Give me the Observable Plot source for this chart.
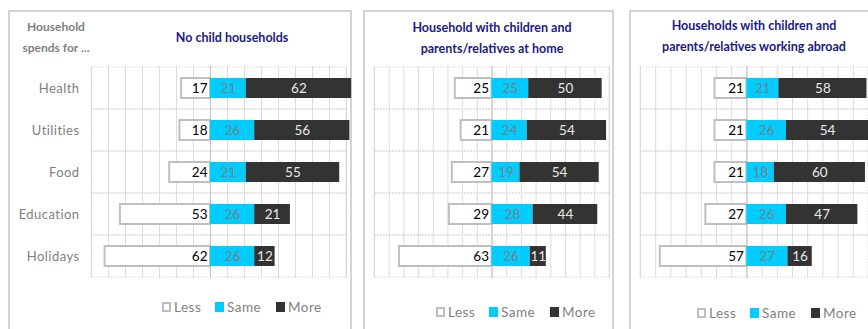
<!DOCTYPE html>
<html>
<head>
<meta charset="utf-8">
<script src="https://cdn.jsdelivr.net/npm/d3@7"></script>
<script src="https://cdn.jsdelivr.net/npm/@observablehq/plot@0.6"></script>
<style>
  html, body { margin: 0; padding: 0; background: #fff; }
  #wrap { position: relative; width: 868px; height: 329px; overflow: hidden; background: #fff;
          font-family: Lato, "Liberation Sans", sans-serif; }
  .frame { position: absolute; border: 2px solid #d4d4d4; border-bottom: none; }
  .plot { position: absolute; top: 0; }
  .plot svg { overflow: visible; }
  .title { position: absolute; color: #1a1a85; font-weight: bold; font-size: 12.5px; text-align: center; line-height: 21px; white-space: nowrap; transform: translateX(-50%); }
  .header { position: absolute; color: #7f7f7f; font-weight: bold; font-size: 12px; text-align: center; line-height: 21px; white-space: nowrap; transform: translateX(-50%); }
  .legend { position: absolute; display: flex; align-items: center; color: #7f7f7f; font-size: 13.5px; letter-spacing: 0.5px; white-space: nowrap; }
  .sw { display: inline-block; width: 9px; height: 10px; margin-right: 3px; box-sizing: border-box; }
  g[aria-label^="y-axis"] { color: #7f7f7f; fill: #7f7f7f; }
  g[aria-label^="y-axis"] text { font-size: 13px; letter-spacing: 0.45px; fill: #7f7f7f; }
</style>
</head>
<body>
<div id="wrap"></div>
<script>
const categories = ["Health", "Utilities", "Food", "Education", "Holidays"];
const seriesNames = ["Less", "Same", "More"];
const seriesColors = ["#ffffff", "#00ccff", "#333333"];
const panelTitles = [
  ["No child households"],
  ["Household with children and", "parents/relatives at home"],
  ["Households with children and", "parents/relatives working abroad"]
];
const headerLines = ["Household", "spends for ..."];

const noChildLess = [17, 18, 24, 53, 62];
const noChildSame = [21, 26, 21, 26, 26];
const noChildMore = [62, 56, 55, 21, 12];

const homeLess = [25, 21, 27, 29, 63];
const homeSame = [25, 24, 19, 28, 26];
const homeMore = [50, 54, 54, 44, 11];

const abroadLess = [21, 21, 21, 27, 57];
const abroadSame = [21, 26, 18, 26, 27];
const abroadMore = [58, 54, 60, 47, 16];

const wrap = document.getElementById("wrap");

function addDiv(cls, style, html) {
  const d = document.createElement("div");
  d.className = cls;
  Object.assign(d.style, style);
  if (html != null) d.innerHTML = html;
  wrap.appendChild(d);
  return d;
}

function makePanel(less, same, more, domain, opts) {
  const rows = categories.map((c, i) => ({cat: c, less: less[i], same: same[i], more: more[i]}));
  const fontFamily = 'Lato, "Liberation Sans", sans-serif';
  const plot = Plot.plot({
    width: opts.width,
    height: 290,
    marginTop: 66,
    marginBottom: 12,
    marginLeft: opts.marginLeft,
    marginRight: opts.marginRight,
    style: {background: "transparent", fontFamily, overflow: "visible"},
    x: {domain, axis: null},
    y: opts.showY
      ? {domain: categories, padding: 0, tickSize: 0, tickPadding: 12, label: null, axis: "left"}
      : {domain: categories, padding: 0, axis: null},
    marks: [
      Plot.gridX(d3.range(domain[0], domain[1] + 1, 10), {stroke: "#dcdcdc", strokeOpacity: 1}),
      Plot.barX(categories, {y: d => d, x1: domain[0], x2: domain[1], fill: "none", stroke: "#d4d4d4", strokeDasharray: "1.5,1.5"}),
      Plot.ruleX([0], {stroke: "#c0c0c0"}),
      Plot.barX(rows, {y: "cat", x1: d => -d.less, x2: 0, fill: seriesColors[0], stroke: "#bfbfbf", strokeWidth: 2, insetTop: 11, insetBottom: 11}),
      Plot.barX(rows, {y: "cat", x1: 0, x2: d => d.same, fill: seriesColors[1], insetTop: 11, insetBottom: 11}),
      Plot.barX(rows, {y: "cat", x1: d => d.same, x2: d => d.same + d.more, fill: seriesColors[2], insetTop: 11, insetBottom: 11}),
      Plot.text(rows, {y: "cat", x: 0, text: d => String(d.less), dx: -3, textAnchor: "end", fill: "#000000", fontSize: 13.5}),
      Plot.text(rows, {y: "cat", x: d => d.same / 2, text: d => String(d.same), fill: "#7f7f7f", fontSize: 13.5}),
      Plot.text(rows, {y: "cat", x: d => d.same + d.more / 2, text: d => String(d.more), fill: "#e8e8e8", fontSize: 13.5})
    ]
  });
  const holder = addDiv("plot", {left: opts.left + "px"});
  holder.appendChild(plot);
}

// frames
addDiv("frame", {left: "8px", top: "10px", width: "340px", height: "330px"});
addDiv("frame", {left: "363px", top: "10px", width: "247px", height: "330px"});
addDiv("frame", {left: "629px", top: "10px", width: "260px", height: "330px"});

makePanel(noChildLess, noChildSame, noChildMore, [-70, 80], {left: 0, width: 350, marginLeft: 91, marginRight: 4, showY: true});
makePanel(homeLess, homeSame, homeMore, [-80, 80], {left: 364, width: 250, marginLeft: 10, marginRight: 5, showY: false});
makePanel(abroadLess, abroadSame, abroadMore, [-70, 80], {left: 630, width: 238, marginLeft: 10, marginRight: 0, showY: false});

// header & titles
addDiv("header", {left: "56px", top: "16px"}, headerLines.join("<br>"));
addDiv("title", {left: "232px", top: "27px"}, panelTitles[0].join("<br>"));
addDiv("title", {left: "492px", top: "17px"}, panelTitles[1].join("<br>"));
addDiv("title", {left: "754px", top: "15px"}, panelTitles[2].join("<br>"));

// legends: each item placed separately
function legend(x, y) {
  const offsets = [0, 53, 114];
  seriesNames.forEach((name, i) => {
    const item = addDiv("legend", {left: (x + offsets[i]) + "px", top: y + "px"});
    const sw = document.createElement("span");
    sw.className = "sw";
    sw.style.background = seriesColors[i];
    if (i === 0) sw.style.border = "2px solid #bfbfbf";
    const t = document.createElement("span");
    t.textContent = name;
    item.appendChild(sw);
    item.appendChild(t);
  });
}
legend(162, 299);
legend(436, 304);
legend(697, 305);
</script>
</body>
</html>
